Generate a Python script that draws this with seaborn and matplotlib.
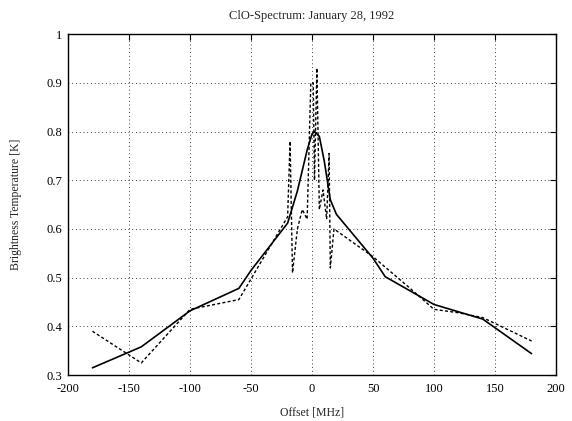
"""ClO spectrum, 28 January 1992: model curve against measured filter-bank channels."""

import matplotlib

matplotlib.use("Agg")
import matplotlib.pyplot as plt
import pandas as pd
import seaborn as sns


TITLE = "ClO-Spectrum: January 28, 1992"
X_LABEL = "Offset [MHz]"
Y_LABEL = "Brightness Temperature [K]"

# solid curve
fit_offset = [-180, -140, -100, -60, -50, -20, -12, -4, 0, 2, 6, 10, 15, 20, 50, 60, 100, 140, 180]
fit_temp = [0.315, 0.358, 0.432, 0.478, 0.515, 0.612, 0.678, 0.762, 0.795, 0.800,
            0.790, 0.740, 0.660, 0.630, 0.540, 0.502, 0.445, 0.415, 0.344]

# dashed curve (measured channels, narrow ones near the line centre)
obs_offset = [-180, -140, -100, -60, -20, -18, -16, -12, -8, -4, -1, 1, 2, 4, 6,
              9, 12, 14, 15, 18, 50, 80, 100, 120, 140, 180]
obs_temp = [0.390, 0.325, 0.435, 0.455, 0.625, 0.780, 0.510, 0.600, 0.640, 0.620,
            0.900, 0.900, 0.700, 0.930, 0.640, 0.680, 0.620, 0.755, 0.520, 0.600,
            0.543, 0.479, 0.435, 0.428, 0.418, 0.370]

x_ticks = [-200, -150, -100, -50, 0, 50, 100, 150, 200]
y_ticks = [0.3, 0.4, 0.5, 0.6, 0.7, 0.8, 0.9, 1.0]
y_tick_labels = ["0.3", "0.4", "0.5", "0.6", "0.7", "0.8", "0.9", "1"]


def main() -> None:
    sns.set_theme(style="white")
    plt.rcParams["font.family"] = ["Liberation Serif", "DejaVu Serif"]
    plt.rcParams["axes.unicode_minus"] = False

    fit = pd.DataFrame({"offset": fit_offset, "temp": fit_temp})
    obs = pd.DataFrame({"offset": obs_offset, "temp": obs_temp})

    fig = plt.figure(figsize=(5.72, 4.21), dpi=100)
    ax = fig.add_axes([0.119, 0.109, 0.853, 0.810])

    sns.lineplot(data=fit, x="offset", y="temp", ax=ax, color="black",
                 linewidth=1.2, sort=False, estimator=None)
    sns.lineplot(data=obs, x="offset", y="temp", ax=ax, color="black",
                 linewidth=1.0, sort=False, estimator=None)
    ax.lines[-1].set_dashes((2.2, 1.6))

    ax.set_xlim(-200, 200)
    ax.set_ylim(0.3, 1.0)
    ax.set_xticks(x_ticks)
    ax.set_yticks(y_ticks)
    ax.set_yticklabels(y_tick_labels)
    ax.grid(True, color="black", linestyle=(0, (1, 3.5)), linewidth=0.6)

    for side in ax.spines.values():
        side.set_visible(True)
        side.set_color("black")
        side.set_linewidth(1.0)
    ax.tick_params(direction="in", length=4, width=0.8, colors="black",
                   labelsize=9, top=True, right=True)
    ax.tick_params(axis="x", pad=6)
    ax.tick_params(axis="y", pad=4)

    ax.set_title(TITLE, fontsize=9, pad=11)
    ax.set_xlabel(X_LABEL, fontsize=8.5, labelpad=8)
    ax.set_ylabel(Y_LABEL, fontsize=8.5, labelpad=18)

    fig.savefig("out.png", dpi=100, facecolor="white")
    plt.close(fig)


if __name__ == "__main__":
    main()
